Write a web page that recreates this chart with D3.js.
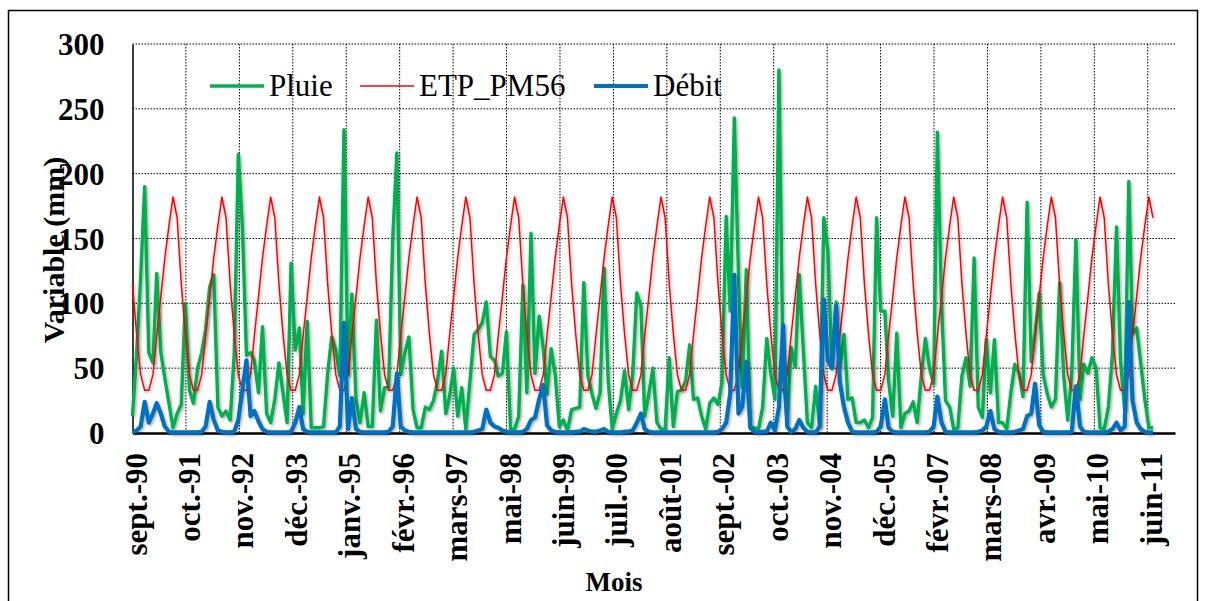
<!DOCTYPE html>
<html>
<head>
<meta charset="utf-8">
<script src="https://cdn.jsdelivr.net/npm/d3@7"></script>
<style>
  body { margin: 0; background: #fff; }
  svg { display: block; }
  text { font-family: "Liberation Serif", "Tinos", "Times New Roman", Times, "DejaVu Serif", serif; fill: #000; }
</style>
</head>
<body>
<svg id="chart" width="1206" height="601"></svg>
<script>
// Monthly series, September 1990 to August 2011 (one row per hydrological year, Sep..Aug)
const firstMonth = [1990, 8];   // year, zero-based month
const lastMonthExclusive = [2011, 8];

const pluie = [
  13, 60, 120, 190, 62, 54, 123, 62, 42, 23, 4, 15,
  22, 100, 33, 23, 50, 62, 80, 113, 122, 20, 13, 17,
  10, 60, 215, 160, 60, 62, 56, 31, 82, 15, 8, 26,
  54, 31, 8, 131, 64, 81, 15, 86, 4, 4, 4, 5,
  46, 74, 64, 44, 234, 45, 107, 26, 8, 31, 5, 5,
  87, 17, 35, 35, 150, 216, 45, 62, 74, 18, 4, 4,
  20, 18, 25, 40, 63, 15, 28, 50, 13, 35, 3, 40,
  76, 80, 85, 101, 59, 56, 44, 46, 78, 3, 3, 13,
  114, 31, 154, 46, 90, 65, 30, 65, 45, 5, 10, 2,
  18, 19, 20, 116, 44, 30, 19, 31, 127, 40, 3, 15,
  25, 48, 18, 45, 108, 98, 13, 30, 50, 8, 3, 3,
  58, 5, 32, 33, 40, 68, 26, 27, 13, 3, 23, 27,
  22, 39, 167, 94, 243, 123, 35, 126, 4, 4, 3, 20,
  73, 46, 26, 280, 46, 8, 66, 51, 122, 63, 8, 4,
  36, 5, 166, 141, 51, 101, 50, 76, 26, 27, 8, 8,
  10, 4, 12, 166, 94, 94, 40, 13, 77, 4, 15, 17,
  24, 8, 44, 73, 50, 38, 232, 100, 25, 20, 3, 4,
  44, 58, 36, 135, 20, 12, 72, 31, 72, 8, 8, 3,
  31, 53, 46, 28, 178, 55, 77, 108, 45, 30, 20, 26,
  116, 45, 10, 46, 149, 26, 53, 46, 58, 50, 4, 3,
  20, 60, 159, 56, 18, 194, 77, 81, 54, 26, 4, 4
];

const etp = [
  115, 77, 45, 33, 33, 45, 75, 105, 135, 160, 182, 166,
  115, 77, 45, 33, 33, 45, 75, 105, 135, 160, 182, 166,
  115, 77, 45, 33, 33, 45, 75, 105, 135, 160, 182, 166,
  115, 77, 45, 33, 33, 45, 75, 105, 135, 160, 182, 166,
  115, 77, 45, 33, 33, 45, 75, 105, 135, 160, 182, 166,
  115, 77, 45, 33, 33, 45, 75, 105, 135, 160, 182, 166,
  115, 77, 45, 33, 33, 45, 75, 105, 135, 160, 182, 166,
  115, 77, 45, 33, 33, 45, 75, 105, 135, 160, 182, 166,
  115, 77, 45, 33, 33, 45, 75, 105, 135, 160, 182, 166,
  115, 77, 45, 33, 33, 45, 75, 105, 135, 160, 182, 166,
  115, 77, 45, 33, 33, 45, 75, 105, 135, 160, 182, 166,
  115, 77, 45, 33, 33, 45, 75, 105, 135, 160, 182, 166,
  115, 77, 45, 33, 33, 45, 75, 105, 135, 160, 182, 166,
  115, 77, 45, 33, 33, 45, 75, 105, 135, 160, 182, 166,
  115, 77, 45, 33, 33, 45, 75, 105, 135, 160, 182, 166,
  115, 77, 45, 33, 33, 45, 75, 105, 135, 160, 182, 166,
  115, 77, 45, 33, 33, 45, 75, 105, 135, 160, 182, 166,
  115, 77, 45, 33, 33, 45, 75, 105, 135, 160, 182, 166,
  115, 77, 45, 33, 33, 45, 75, 105, 135, 160, 182, 166,
  115, 77, 45, 33, 33, 45, 75, 105, 135, 160, 182, 166,
  115, 77, 45, 33, 33, 45, 75, 105, 135, 160, 182, 166
];

const debit = [
  0.5, 2, 5, 24, 8, 15, 23, 15, 5, 1, 0.5, 0.5,
  0.5, 0.5, 0.5, 0.5, 0.5, 1, 5, 24, 10, 2, 1, 0.5,
  0.5, 1, 10, 33, 56, 13, 17, 9, 3, 1, 0.5, 0.5,
  0.5, 0.5, 0.5, 1, 8, 20, 3, 1, 0.5, 0.5, 0.5, 0.5,
  0.5, 0.5, 0.5, 5, 85, 3, 27, 3, 1, 0.5, 0.5, 0.5,
  0.5, 0.5, 0.5, 1, 5, 46, 5, 2, 1, 0.5, 0.5, 0.5,
  0.5, 0.5, 0.5, 0.5, 0.5, 0.5, 0.5, 0.5, 0.5, 0.5, 0.5, 0.5,
  1, 2, 3, 18, 8, 5, 4, 2, 1, 0.5, 0.5, 0.5,
  1, 3, 10, 12, 26, 37, 6, 2, 1, 0.5, 0.5, 0.5,
  0.5, 1, 1, 3, 2, 1, 1, 2, 3, 1, 0.5, 0.5,
  0.5, 1, 1, 2, 8, 15, 3, 1, 0.5, 0.5, 0.5, 0.5,
  0.5, 0.5, 0.5, 0.5, 0.5, 0.5, 0.5, 0.5, 0.5, 0.5, 0.5, 0.5,
  1, 3, 8, 30, 122, 15, 20, 55, 4, 1, 0.5, 1,
  1, 8, 2, 20, 83, 5, 1, 3, 10, 4, 1, 0.5,
  0.5, 5, 103, 56, 50, 98, 39, 20, 8, 1, 0.5, 0.5,
  0.5, 0.5, 0.5, 1, 5, 26, 4, 1, 0.5, 0.5, 0.5, 0.5,
  0.5, 0.5, 0.5, 0.5, 1, 5, 28, 8, 1, 0.5, 0.5, 0.5,
  0.5, 0.5, 0.5, 0.5, 1, 2, 5, 17, 3, 1, 0.5, 0.5,
  0.5, 1, 2, 3, 13, 15, 38, 6, 1, 0.5, 0.5, 0.5,
  0.5, 0.5, 0.5, 1, 36, 5, 1, 0.5, 0.5, 0.5, 0.5, 0.5,
  1, 3, 8, 2, 5, 101, 25, 8, 3, 1, 0.5, 0.5
];

// Date axis: a labelled gridline every 400 days from the first month
const tickLabels = [
  "sept.-90", "oct.-91", "nov.-92", "déc.-93", "janv.-95", "févr.-96", "mars-97",
  "mai-98", "juin-99", "juil.-00", "août-01", "sept.-02", "oct.-03", "nov.-04",
  "déc.-05", "févr.-07", "mars-08", "avr.-09", "mai-10", "juin-11"
];
const tickStepDays = 400;
const axisEndDate = [2012, 0, 13];

const yTicks = [0, 50, 100, 150, 200, 250, 300];

const seriesNames = ["Pluie", "ETP_PM56", "Débit"];
const seriesColors = ["#00B050", "#FF0000", "#0070C0"];
const seriesWidths = [3.4, 1.5, 4.2];

const serifStack = '"Liberation Serif", "Tinos", "Times New Roman", Times, "DejaVu Serif", serif';

// ---------------------------------------------------------------
(function draw() {
  const svg = d3.select("#chart");
  const plotLeft = 132.5, plotRight = 1175, plotTop = 44, plotBottom = 433;

  const start = new Date(Date.UTC(firstMonth[0], firstMonth[1], 1));
  const months = d3.utcMonth.range(start, new Date(Date.UTC(lastMonthExclusive[0], lastMonthExclusive[1], 1)));

  const x = d3.scaleUtc()
    .domain([start, new Date(Date.UTC(axisEndDate[0], axisEndDate[1], axisEndDate[2]))])
    .range([plotLeft, plotRight]);
  const y = d3.scaleLinear().domain([0, 300]).range([plotBottom, plotTop]);

  const tickDates = tickLabels.map((_, k) => d3.utcDay.offset(start, k * tickStepDays));

  // outer frame
  svg.append("rect")
    .attr("x", 8.5).attr("y", 10.5).attr("width", 1189).attr("height", 600)
    .attr("fill", "none").attr("stroke", "#000").attr("stroke-width", 1.5);

  // soft shadow under the series lines
  const defs = svg.append("defs");
  const f = defs.append("filter").attr("id", "shadow")
    .attr("x", "-5%").attr("y", "-5%").attr("width", "110%").attr("height", "110%");
  f.append("feDropShadow").attr("dx", 1.5).attr("dy", 1.5).attr("stdDeviation", 1.2)
    .attr("flood-color", "#000").attr("flood-opacity", 0.3);

  // horizontal gridlines
  svg.append("g").selectAll("line").data(yTicks.filter(v => v > 0)).join("line")
    .attr("x1", plotLeft).attr("x2", plotRight)
    .attr("y1", d => y(d)).attr("y2", d => y(d))
    .attr("stroke", "#000").attr("stroke-width", 1).attr("stroke-dasharray", "1.5,1.5");

  // vertical gridlines
  svg.append("g").selectAll("line").data(tickDates.slice(1)).join("line")
    .attr("x1", d => x(d)).attr("x2", d => x(d))
    .attr("y1", plotTop).attr("y2", plotBottom)
    .attr("stroke", "#000").attr("stroke-width", 1).attr("stroke-dasharray", "1.5,1.5");

  // y axis
  const yAxis = d3.axisLeft(y).tickValues(yTicks).tickSize(0).tickPadding(28);
  const gy = svg.append("g").attr("transform", `translate(${plotLeft},0)`).call(yAxis)
    .attr("font-family", serifStack);
  gy.select(".domain").attr("stroke", "#000").attr("stroke-width", 1.5);
  gy.selectAll("text")
    .style("font-family", serifStack)
    .style("font-size", "31px").style("font-weight", "bold").attr("dy", "0.34em");

  // x axis
  const xAxis = d3.axisBottom(x).tickValues(tickDates)
    .tickFormat((d, i) => tickLabels[i]).tickSize(0);
  const gx = svg.append("g").attr("transform", `translate(0,${plotBottom})`).call(xAxis)
    .attr("font-family", serifStack);
  gx.select(".domain").attr("stroke", "#000").attr("stroke-width", 2.5);
  gx.selectAll("text")
    .style("font-family", serifStack)
    .style("font-size", "31px").style("font-weight", "bold")
    .attr("text-anchor", "end").attr("dy", "0.34em")
    .attr("transform", "translate(3,20) rotate(-90)")
    .attr("y", 0).attr("x", 0);

  // series
  const allSeries = [pluie, etp, debit];
  const line = d3.line().x((d, i) => x(months[i])).y(d => y(d));
  const plot = svg.append("g");
  allSeries.forEach((vals, s) => {
    plot.append("path").datum(vals)
      .attr("d", line)
      .attr("fill", "none")
      .attr("stroke", seriesColors[s])
      .attr("stroke-width", seriesWidths[s])
      .attr("stroke-linejoin", "round")
      .attr("filter", "url(#shadow)");
  });

  // legend
  const legendX = [210, 360, 594];
  const legend = svg.append("g");
  seriesNames.forEach((name, s) => {
    legend.append("line")
      .attr("x1", legendX[s]).attr("x2", legendX[s] + 54)
      .attr("y1", 86).attr("y2", 86)
      .attr("stroke", seriesColors[s]).attr("stroke-width", seriesWidths[s]);
    legend.append("text")
      .attr("x", legendX[s] + 59).attr("y", 96)
      .style("font-family", serifStack)
      .style("font-size", "31px")
      .text(name);
  });

  // axis titles
  svg.append("text")
    .attr("transform", `translate(54,250) rotate(-90)`)
    .attr("text-anchor", "middle").attr("dy", "0.34em")
    .style("font-family", serifStack)
    .style("font-size", "30px").style("font-weight", "bold")
    .text("Variable (mm)");

  svg.append("text")
    .attr("x", 614).attr("y", 591)
    .attr("text-anchor", "middle")
    .style("font-family", serifStack)
    .style("font-size", "27px").style("font-weight", "bold")
    .text("Mois");
})();
</script>
</body>
</html>
